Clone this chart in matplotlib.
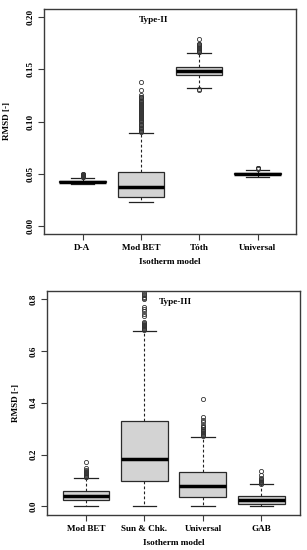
import matplotlib
matplotlib.use("Agg")
import matplotlib.pyplot as plt

# ---------------- data: Type-II ----------------
top_labels = ["D-A", "Mod BET", "Tóth", "Universal"]
top_q1 = [0.0416, 0.0278, 0.1445, 0.0494]
top_med = [0.0424, 0.0376, 0.1486, 0.0500]
top_q3 = [0.0431, 0.0517, 0.1524, 0.0506]
top_whislo = [0.0400, 0.0223, 0.1320, 0.0466]
top_whishi = [0.0462, 0.0893, 0.1658, 0.0539]
top_fliers = [
    [0.0466, 0.0471, 0.0476, 0.0481, 0.0486, 0.0491, 0.0496, 0.0500],
    [0.0900, 0.0910, 0.0921, 0.0930, 0.0941, 0.0950, 0.0962, 0.0971, 0.0980,
     0.0992, 0.1001, 0.1012, 0.1020, 0.1031, 0.1040, 0.1052, 0.1060, 0.1071,
     0.1080, 0.1091, 0.1100, 0.1112, 0.1121, 0.1130, 0.1142, 0.1150, 0.1161,
     0.1170, 0.1181, 0.1190, 0.1201, 0.1210, 0.1222, 0.1231, 0.1240, 0.1250,
     0.1302, 0.1380],
    [0.1306, 0.1312, 0.1665, 0.1672, 0.1680, 0.1688, 0.1695, 0.1702, 0.1710,
     0.1718, 0.1726, 0.1733, 0.1741, 0.1748, 0.1790],
    [0.0544, 0.0549, 0.0553, 0.0558],
]

# ---------------- data: Type-III ----------------
bot_labels = ["Mod BET", "Sun & Chk.", "Universal", "GAB"]
bot_q1 = [0.0258, 0.099, 0.036, 0.0104]
bot_med = [0.040, 0.184, 0.077, 0.023]
bot_q3 = [0.0605, 0.331, 0.1325, 0.0385]
bot_whislo = [0.0, 0.0, 0.0, 0.0]
bot_whishi = [0.109, 0.678, 0.269, 0.085]
bot_fliers = [
    [0.112, 0.115, 0.118, 0.121, 0.124, 0.127, 0.130, 0.133, 0.136, 0.139,
     0.148, 0.171],
    [0.681, 0.684, 0.688, 0.691, 0.694, 0.698, 0.701, 0.705, 0.709, 0.713,
     0.733, 0.743, 0.752, 0.761, 0.771, 0.799, 0.804, 0.809, 0.814, 0.820,
     0.827],
    [0.272, 0.276, 0.280, 0.284, 0.288, 0.292, 0.296, 0.300, 0.305, 0.308,
     0.315, 0.325, 0.335, 0.344, 0.415],
    [0.087, 0.090, 0.093, 0.096, 0.099, 0.102, 0.105, 0.109, 0.122, 0.135],
]

top_yticks = [0.00, 0.05, 0.10, 0.15, 0.20]
top_yticklabels = ["0.00", "0.05", "0.10", "0.15", "0.20"]
bot_yticks = [0.0, 0.2, 0.4, 0.6, 0.8]
bot_yticklabels = ["0.0", "0.2", "0.4", "0.6", "0.8"]

plt.rcParams["font.family"] = ["Liberation Serif", "DejaVu Serif"]
plt.rcParams["font.weight"] = "bold"
FS = 6.6
FRAME = "#3a3a3a"

fig = plt.figure(figsize=(3.07, 5.50), dpi=100)
W, H = 307.0, 550.0


def add_axes(left, right, top, bottom):
    return fig.add_axes([left / W, 1 - bottom / H, (right - left) / W, (bottom - top) / H])


def draw_panel(ax, labels, q1, med, q3, lo, hi, fliers, ylim, yticks, yticklabels,
               title, title_xy, ylabel_x):
    stats = []
    for i in range(len(labels)):
        stats.append(dict(label=labels[i], q1=q1[i], med=med[i], q3=q3[i],
                          whislo=lo[i], whishi=hi[i], fliers=fliers[i]))
    n = len(labels)
    pos = list(range(1, n + 1))
    ax.bxp(stats, positions=pos, widths=0.8, capwidths=0.4, patch_artist=True,
           boxprops=dict(facecolor="#d3d3d3", edgecolor="#2a2a2a", linewidth=0.9),
           medianprops=dict(color="black", linewidth=2.5, solid_capstyle="butt"),
           whiskerprops=dict(color="#222222", linestyle=(0, (2.5, 2.0)), linewidth=0.8),
           capprops=dict(color="#222222", linewidth=0.9),
           flierprops=dict(marker="o", markerfacecolor="none", markeredgecolor="#333333",
                           markersize=3.0, markeredgewidth=0.6))
    rng = n
    ax.set_xlim(0.5 - 0.04 * rng, n + 0.5 + 0.04 * rng)
    span = ylim[1] - ylim[0]
    ax.set_ylim(ylim[0] - 0.04 * span, ylim[1] + 0.04 * span)
    ax.set_yticks(yticks)
    ax.set_yticklabels(yticklabels, rotation=90, va="center", fontsize=FS, fontweight="bold")
    ax.set_xticks(pos)
    ax.set_xticklabels(labels, fontsize=FS, fontweight="bold")
    ax.tick_params(axis="y", length=4, width=0.8, pad=3.0, color=FRAME)
    ax.tick_params(axis="x", length=4, width=0.8, pad=3.5, color=FRAME)
    for s in ax.spines.values():
        s.set_color(FRAME)
        s.set_linewidth(1.0)
    ax.set_xlabel("Isotherm model", fontsize=FS, fontweight="bold", labelpad=4)
    ax.set_ylabel("RMSD [-]", fontsize=FS, fontweight="bold")
    ax.yaxis.set_label_coords(ylabel_x, 0.5)
    ax.text(title_xy[0], title_xy[1], title, fontsize=FS, fontweight="bold",
            ha="center", va="center", transform=ax.transAxes)


ax1 = add_axes(44, 296, 9, 234)
draw_panel(ax1, top_labels, top_q1, top_med, top_q3, top_whislo, top_whishi, top_fliers,
           (0.0, 0.2), top_yticks, top_yticklabels, "Type-II",
           ((154 - 44) / 252.0, 1 - (20 - 9) / 225.0), (11.5 - 44) / 252.0)

ax2 = add_axes(47.3, 300, 290.7, 514.7)
draw_panel(ax2, bot_labels, bot_q1, bot_med, bot_q3, bot_whislo, bot_whishi, bot_fliers,
           (0.0, 0.8), bot_yticks, bot_yticklabels, "Type-III",
           ((175 - 47.3) / 252.7, 1 - (301.7 - 290.7) / 224.0), (20 - 47.3) / 252.7)

fig.savefig("out.png", dpi=100, facecolor="white")
